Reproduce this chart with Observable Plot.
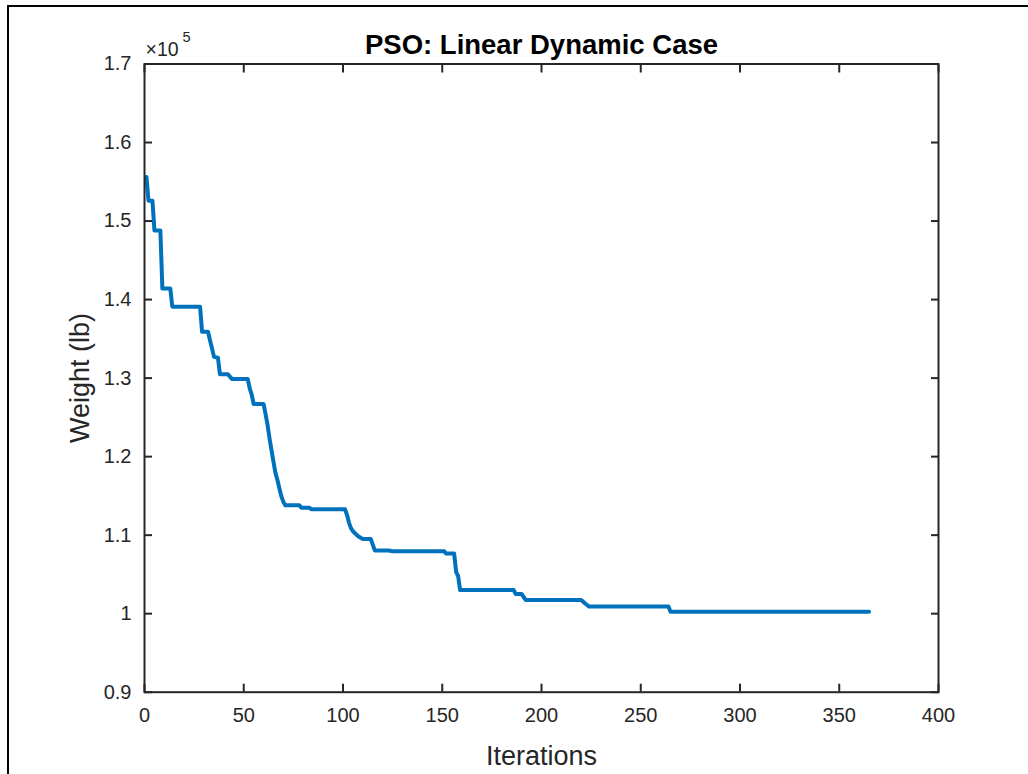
<!DOCTYPE html>
<html>
<head>
<meta charset="utf-8">
<script src="https://cdn.jsdelivr.net/npm/d3@7"></script>
<script src="https://cdn.jsdelivr.net/npm/@observablehq/plot@0.6"></script>
<style>
  html, body { margin: 0; padding: 0; background: #fff; }
  #wrap { position: relative; width: 1028px; height: 774px; overflow: hidden; }
  #border { position: absolute; left: 7px; top: 5px; width: 2000px; height: 2000px;
            border-left: 2px solid #000; border-top: 2px solid #000; pointer-events: none; }
  #chart { position: absolute; left: 0; top: 0; }
</style>
</head>
<body>
<div id="wrap"><div id="chart"></div><div id="border"></div></div>
<script>
// Iteration numbers at which the best weight changes (breakpoints of the curve)
const iterations = [1, 2, 4, 5, 8, 9, 13, 14, 28, 29, 32, 33, 34, 35, 37, 38, 42, 44, 52, 53, 54, 55,
  60, 61, 62, 63, 64, 65, 66, 67, 68, 69, 70, 71, 78, 79, 83, 84, 101, 102, 103, 104, 105, 107, 108,
  110, 114, 115, 116, 123, 125, 151, 152, 156, 157, 158, 159, 186, 187, 190, 192, 220, 222, 224,
  264, 265, 365];
// Best weight (lb) at those iterations
const weights = [155600, 152600, 152600, 148800, 148800, 141400, 141400, 139100, 139100, 135900,
  135900, 134800, 133800, 132700, 132600, 130500, 130500, 129900, 129900, 128700, 127900, 126700,
  126700, 125400, 124000, 122300, 120800, 119300, 117900, 117000, 115900, 114900, 114200, 113800,
  113800, 113500, 113500, 113300, 113300, 112600, 111600, 110900, 110500, 110000, 109800,
  109500, 109500, 108800, 108050, 108050, 107950, 107950, 107650, 107650, 105300, 104800, 103000,
  103000, 102500, 102500, 101750, 101750, 101300, 100900, 100900, 100250, 100250];

const xTicks = [0, 50, 100, 150, 200, 250, 300, 350, 400];
const yTicks = [90000, 100000, 110000, 120000, 130000, 140000, 150000, 160000, 170000];

const titleText = "PSO: Linear Dynamic Case";
const xLabel = "Iterations";
const yLabel = "Weight (lb)";

const data = iterations.map((it, i) => ({iter: it, w: weights[i]}));
const fmtY = v => String(+(v / 1e5).toFixed(1));
const ink = "#262626";
const font = "'Liberation Sans', Arial, Helvetica, sans-serif";

const chart = Plot.plot({
  width: 1028,
  height: 774,
  marginLeft: 144,
  marginRight: 90,
  marginTop: 63.5,
  marginBottom: 82.3,
  style: {fontFamily: font, fontSize: "20px", color: ink, background: "transparent"},
  x: {domain: [0, 400], ticks: xTicks},
  y: {domain: [90000, 170000], ticks: yTicks},
  marks: [
    Plot.line(data, {x: "iter", y: "w", stroke: "#0072BD", strokeWidth: 4, strokeLinejoin: "round"}),
    Plot.frame({stroke: ink, strokeWidth: 2}),
    Plot.axisX(xTicks, {anchor: "bottom", tickSize: -8, tickPadding: 24, stroke: ink, strokeWidth: 2, fill: ink, label: null}),
    Plot.axisX(xTicks, {anchor: "top", tickSize: -8, tickFormat: () => "", stroke: ink, strokeWidth: 2, label: null}),
    Plot.axisY(yTicks, {anchor: "left", tickSize: -8, tickPadding: 21, tickFormat: fmtY, stroke: ink, strokeWidth: 2, fill: ink, label: null}),
    Plot.axisY(yTicks, {anchor: "right", tickSize: -8, tickFormat: () => "", stroke: ink, strokeWidth: 2, label: null}),
    Plot.text([titleText], {frameAnchor: "top", dy: -19, fontSize: 27.5, fontWeight: "bold", fill: "#000", lineAnchor: "middle"}),
    Plot.text([xLabel], {frameAnchor: "bottom", dy: 64, fontSize: 27, fill: ink, lineAnchor: "middle"}),
    Plot.text([yLabel], {frameAnchor: "left", dx: -64, rotate: -90, fontSize: 27, fill: ink, textAnchor: "middle", lineAnchor: "middle"}),
    Plot.text(["×10"], {frameAnchor: "top-left", dx: 1, dy: -14.5, fontSize: 19.5, fill: ink, textAnchor: "start", lineAnchor: "middle"}),
    Plot.text(["5"], {frameAnchor: "top-left", dx: 38, dy: -27, fontSize: 14.5, fill: ink, textAnchor: "start", lineAnchor: "middle"})
  ]
});
chart.querySelectorAll('g[aria-label$="tick label"]').forEach(g => {
  g.setAttribute("font-size", "20");
});
document.getElementById("chart").appendChild(chart);
</script>
</body>
</html>
